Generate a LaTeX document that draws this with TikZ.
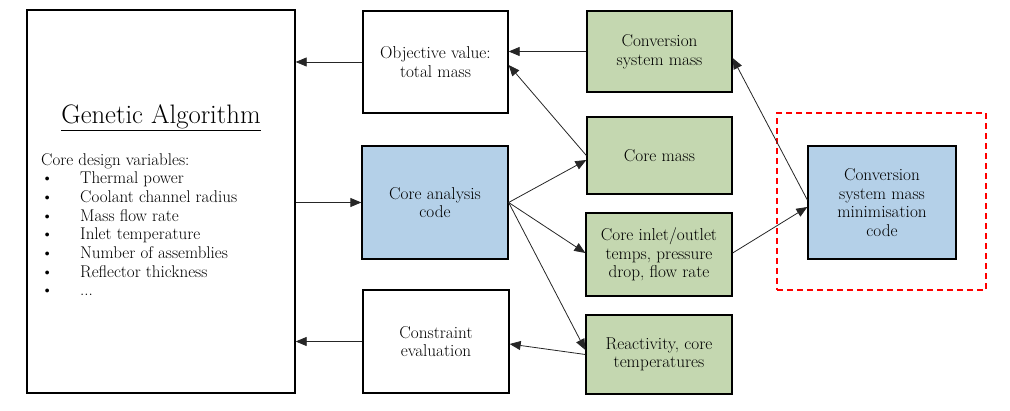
\documentclass[tikz,border=0pt]{standalone}
\usepackage{fontspec}
\usetikzlibrary{arrows.meta}
\definecolor{gfill}{RGB}{196,215,176}
\definecolor{bfill}{RGB}{180,208,232}
\begin{document}
\begin{tikzpicture}[x=1pt,y=1pt,
  box/.style={draw=black,line width=1.3pt,align=center,inner sep=2pt,font=\fontsize{17.2}{18.6}\selectfont},
  gbox/.style={box,fill=gfill},
  bbox/.style={box,fill=bfill},
  arr/.style={draw=black!85,line width=0.8pt,-{Triangle[length=11pt,width=9pt]}},
  dashbox/.style={draw=red,line width=1.4pt,dash pattern=on 6pt off 4pt}]
\useasboundingbox (0,0) rectangle (1010,411);
\node[box,minimum width=268pt,minimum height=383pt] (ga) at (161,209.5) {};
\node[font=\fontsize{26.7}{30}\selectfont] (title) at (161,293) {\underline{Genetic Algorithm}};
\node[anchor=north west,align=left,inner sep=0pt,font=\fontsize{17}{18.7}\selectfont] (vars) at (41,258)
 {Core design variables:\\
  \makebox[39pt][l]{\textbullet}Thermal power\\
  \makebox[39pt][l]{\textbullet}Coolant channel radius\\
  \makebox[39pt][l]{\textbullet}Mass flow rate\\
  \makebox[39pt][l]{\textbullet}Inlet temperature\\
  \makebox[39pt][l]{\textbullet}Number of assemblies\\
  \makebox[39pt][l]{\textbullet}Reflector thickness\\
  \makebox[39pt][l]{\textbullet}...};
\node[box,minimum width=145pt,minimum height=102pt] (obj) at (435.5,349) {Objective value:\\total mass};
\node[bbox,minimum width=146pt,minimum height=113pt] (ca) at (435,208.5) {Core analysis\\code};
\node[box,minimum width=146pt,minimum height=103pt] (con) at (436,69.5) {Constraint\\evaluation};
\node[gbox,minimum width=145pt,minimum height=81pt] (csm) at (659.5,359.5) {Conversion\\system mass};
\node[gbox,minimum width=145pt,minimum height=77pt] (cm) at (659.5,255.5) {Core mass};
\node[gbox,minimum width=146pt,minimum height=83pt] (inl) at (659,156.5) {Core inlet/outlet\\temps, pressure\\drop, flow rate};
\node[gbox,minimum width=146pt,minimum height=79pt] (rea) at (659,56.5) {Reactivity, core\\temperatures};
\node[bbox,minimum width=148pt,minimum height=113pt] (cmin) at (882,208.5) {Conversion\\system mass\\minimisation\\code};
\node[dashbox,minimum width=209pt,minimum height=177pt] (dash) at (881.5,209.5) {};
\draw[arr] (obj.west) -- (ga.east |- obj.west);
\draw[arr] (csm.west) -- (obj.east |- csm.west);
\draw[arr] (cm.west) -- ([yshift=-3pt]obj.east);
\draw[arr] (ga.east |- ca.west) -- (ca.west);
\draw[arr] (ca.east) -- ([yshift=-4.5pt]cm.west);
\draw[arr] (ca.east) -- ([yshift=1.5pt]inl.west);
\draw[arr] (ca.east) -- ([yshift=4.5pt]rea.west);
\draw[arr] ([yshift=0pt]rea.west) -- ([yshift=-2.5pt]con.east);
\draw[arr] (con.west) -- (ga.east |- con.west);
\draw[arr] ([yshift=1.5pt]inl.east) -- ([yshift=-4.5pt]cmin.west);
\draw[arr] ([yshift=2.5pt]cmin.west) -- ([yshift=-6.5pt]csm.east);
\end{tikzpicture}
\end{document}
